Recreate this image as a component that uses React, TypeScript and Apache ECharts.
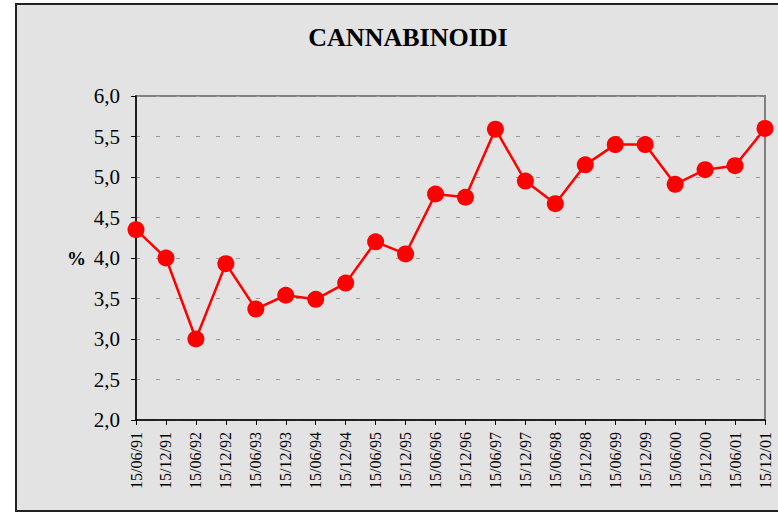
import React, { useEffect, useRef } from "react";
import * as echarts from "echarts";

const categories = [
  "15/06/91", "15/12/91", "15/06/92", "15/12/92", "15/06/93", "15/12/93",
  "15/06/94", "15/12/94", "15/06/95", "15/12/95", "15/06/96", "15/12/96",
  "15/06/97", "15/12/97", "15/06/98", "15/12/98", "15/06/99", "15/12/99",
  "15/06/00", "15/12/00", "15/06/01", "15/12/01",
];
const values = [
  4.35, 4.0, 3.0, 3.93, 3.37, 3.54, 3.49, 3.69, 4.2, 4.05, 4.79, 4.75,
  5.59, 4.95, 4.67, 5.15, 5.4, 5.4, 4.91, 5.09, 5.14, 5.6,
];
const title = "CANNABINOIDI";
const yName = "%";

const FONT = "Liberation Serif";

export default function App() {
  const ref = useRef<HTMLDivElement>(null);
  useEffect(() => {
    if (!ref.current) return;
    const chart = echarts.init(ref.current, undefined, { renderer: "svg" });
    chart.setOption({
      animation: false,
      backgroundColor: "transparent",
      textStyle: { fontFamily: FONT },
      graphic: [
        {
          type: "text",
          style: {
            x: 408,
            y: 24,
            text: title,
            textAlign: "center",
            fontFamily: FONT,
            fontSize: 26,
            fontWeight: "bold",
            fill: "#000",
          },
        },
      ],
      grid: {
        left: 136,
        right: 13,
        top: 96,
        bottom: 92,
        show: true,
        borderColor: "#808080",
        borderWidth: 2,
        backgroundColor: "transparent",
      },
      xAxis: {
        type: "category",
        data: categories,
        boundaryGap: false,
        axisLine: { lineStyle: { color: "#000", width: 1.5 } },
        axisTick: { show: true, length: 5, lineStyle: { color: "#000" } },
        axisLabel: {
          rotate: 90,
          interval: 0,
          margin: 12,
          fontSize: 16,
          color: "#000",
          fontFamily: FONT,
        },
        splitLine: { show: false },
      },
      yAxis: {
        type: "value",
        min: 2,
        max: 6,
        interval: 0.5,
        name: yName,
        nameLocation: "middle",
        nameRotate: 0,
        nameGap: 50,
        nameTextStyle: {
          fontWeight: "bold",
          fontSize: 19,
          color: "#000",
          fontFamily: FONT,
        },
        axisLine: { show: true, lineStyle: { color: "#000", width: 1.5 } },
        axisTick: { show: true, length: 5, lineStyle: { color: "#000" } },
        axisLabel: {
          margin: 16,
          fontSize: 21,
          color: "#000",
          fontFamily: FONT,
          formatter: (v: number) => v.toFixed(1).replace(".", ","),
        },
        splitLine: {
          show: true,
          lineStyle: { color: "#999", width: 1, type: [4, 16] },
        },
      },
      series: [
        {
          type: "line",
          data: values,
          symbol: "circle",
          symbolSize: 17,
          lineStyle: { color: "#ff0000", width: 2.5 },
          itemStyle: { color: "#ff0000" },
          z: 5,
        },
      ],
    });
    return () => chart.dispose();
  }, []);

  return (
    <div
      style={{
        position: "absolute",
        left: 0,
        top: 0,
        width: 778,
        height: 512,
        background: "#fff",
        overflow: "hidden",
      }}
    >
      <div
        style={{
          position: "absolute",
          left: 15,
          top: 3,
          width: 900,
          height: 509,
          boxSizing: "border-box",
          border: "2px solid #222",
          background: "#e3e3e3",
        }}
      />
      <div
        ref={ref}
        style={{ position: "absolute", left: 0, top: 0, width: 778, height: 512 }}
      />
    </div>
  );
}
